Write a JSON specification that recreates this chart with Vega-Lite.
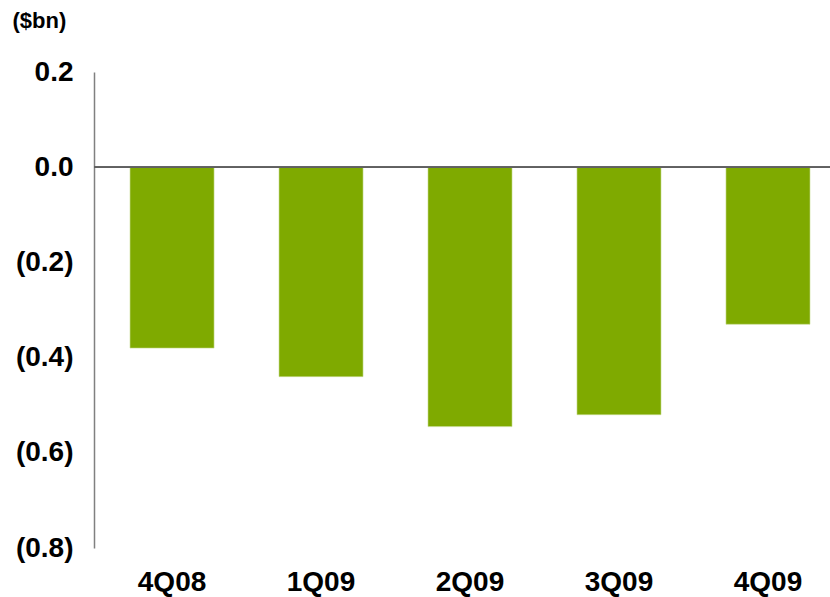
{
  "$schema": "https://vega.github.io/schema/vega-lite/v6.json",
  "width": 736,
  "height": 476,
  "autosize": {"type": "none"},
  "padding": {"left": 94, "top": 72, "right": 0, "bottom": 49},
  "background": "white",
  "config": {"view": {"stroke": null}, "font": "Liberation Sans"},
  "data": {
    "values": [
      {"quarter": "4Q08", "value": -0.38},
      {"quarter": "1Q09", "value": -0.44},
      {"quarter": "2Q09", "value": -0.545},
      {"quarter": "3Q09", "value": -0.52},
      {"quarter": "4Q09", "value": -0.33}
    ]
  },
  "layer": [
    {
      "mark": {"type": "bar", "color": "#7FAA00", "stroke": "#C8DC90", "strokeWidth": 0.6},
      "encoding": {
        "x": {
          "field": "quarter",
          "type": "nominal",
          "sort": null,
          "scale": {"paddingInner": 0.436, "paddingOuter": 0.188, "align": 0.643},
          "axis": {
            "title": null,
            "domain": false,
            "ticks": false,
            "labelAngle": 0,
            "labelFont": "Liberation Sans",
            "labelFontSize": 28,
            "labelFontWeight": "bold",
            "labelColor": "#000000",
            "labelPadding": 20,
            "labelBaseline": "top"
          }
        },
        "y": {
          "field": "value",
          "type": "quantitative",
          "scale": {"domain": [-0.8, 0.2], "nice": false, "zero": false},
          "axis": {
            "values": [0.2, 0, -0.2, -0.4, -0.6, -0.8],
            "labelExpr": "datum.value < -0.001 ? '(' + format(abs(datum.value), '.1f') + ')' : format(datum.value, '.1f')",
            "grid": false,
            "ticks": false,
            "domainColor": "#808080",
            "domainWidth": 1.5,
            "labelFont": "Liberation Sans",
            "labelFontSize": 28,
            "labelFontWeight": "bold",
            "labelColor": "#000000",
            "labelPadding": 21,
            "labelFlush": false,
            "labelOverlap": false,
            "title": "($bn)",
            "titleAngle": 0,
            "titleX": -82,
            "titleY": -45,
            "titleAlign": "left",
            "titleBaseline": "alphabetic",
            "titleFont": "Liberation Sans",
            "titleFontSize": 22,
            "titleFontWeight": "bold",
            "titleColor": "#000000"
          }
        }
      }
    },
    {
      "mark": {"type": "rule", "color": "#606060", "strokeWidth": 1.5},
      "encoding": {"y": {"datum": 0}}
    }
  ]
}
